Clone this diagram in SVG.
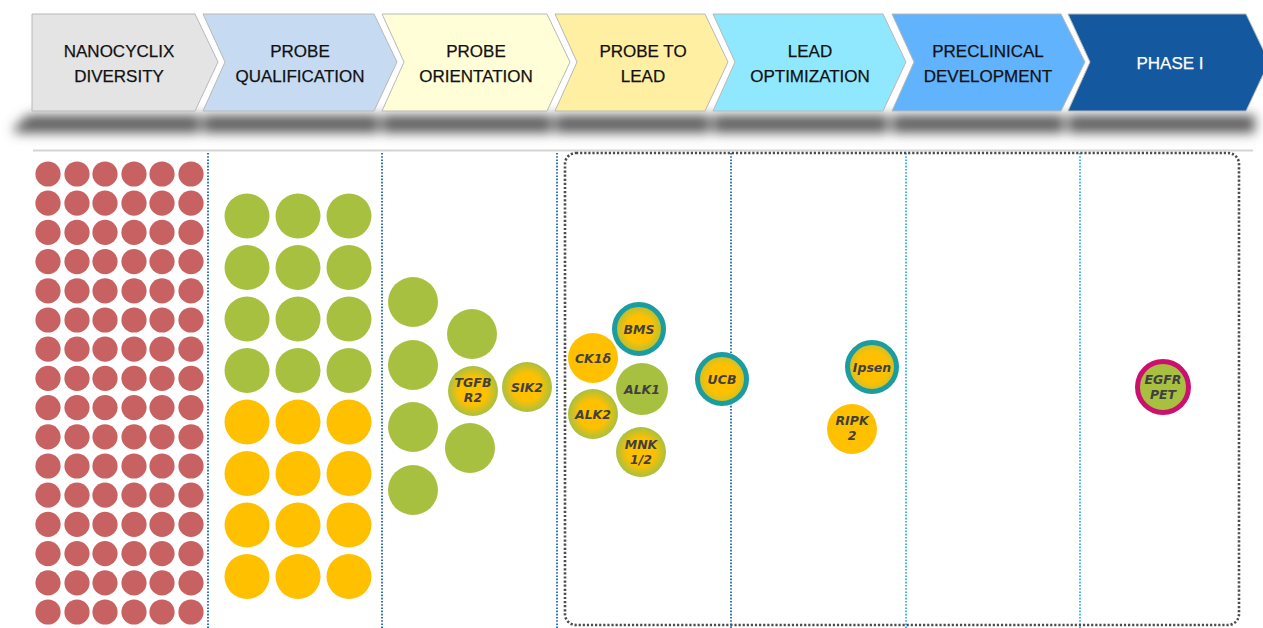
<svg xmlns="http://www.w3.org/2000/svg" width="1263" height="628" viewBox="0 0 1263 628">
<defs>
<filter id="blur" x="-10%" y="-150%" width="120%" height="400%"><feGaussianBlur stdDeviation="6"/></filter>
<radialGradient id="yg" cx="50%" cy="50%" r="50%"><stop offset="0.55" stop-color="#FFC000"/><stop offset="1" stop-color="#A8C040"/></radialGradient>
<radialGradient id="yg2" cx="50%" cy="50%" r="50%"><stop offset="0.6" stop-color="#FFC000"/><stop offset="1" stop-color="#C8C030"/></radialGradient>
<style>
.chev{stroke:#b8b8b8;stroke-width:1}
.ht{font-family:"Liberation Sans",Arial,sans-serif;font-size:17px;fill:#111;text-anchor:middle;stroke:#111;stroke-width:0.25}
.red{fill:#C86262}
.grn{fill:#A8C040}
.yel{fill:#FFC000}
.lbl{font-family:"DejaVu Sans",sans-serif;font-size:12.5px;font-weight:bold;font-style:italic;fill:#404040;text-anchor:middle}
.dv{stroke:#3572B5;stroke-width:2;stroke-dasharray:1.6 1.6;fill:none}
.dvl{stroke:#3DB8F0;stroke-width:2;stroke-dasharray:1.6 1.6;fill:none}
.teal{fill:none;stroke:#1A9CA0;stroke-width:5}
</style>
</defs>
<rect width="1263" height="628" fill="#ffffff"/>
<g id="shadow" filter="url(#blur)" fill="#5e5e5e">
<polygon points="12,130 28,115 200,115 200,133 18,133"/>
<rect x="203" y="115" width="176" height="18"/>
<rect x="382" y="115" width="170" height="18"/>
<rect x="555" y="115" width="155" height="18"/>
<rect x="713" y="115" width="175" height="18"/>
<rect x="892" y="115" width="172" height="18"/>
<rect x="1068" y="115" width="187" height="18"/>
</g>
<g id="header">
<g id="h1"><polygon class="chev" fill="#E4E4E4" points="32,14 195,14 218,62 195,111 32,111"/><text class="ht" x="119" y="57">NANOCYCLIX</text><text class="ht" x="119" y="82">DIVERSITY</text></g>
<g id="h2"><polygon class="chev" fill="#C6DAF1" points="203,14 374,14 397,62 374,111 203,111 225,62"/><text class="ht" x="300" y="57">PROBE</text><text class="ht" x="300" y="82">QUALIFICATION</text></g>
<g id="h3"><polygon class="chev" fill="#FFFED6" points="382,14 547,14 570,62 547,111 382,111 404,62"/><text class="ht" x="476" y="57">PROBE</text><text class="ht" x="476" y="82">ORIENTATION</text></g>
<g id="h4"><polygon class="chev" fill="#FFEFA2" points="555,14 705,14 728,62 705,111 555,111 577,62"/><text class="ht" x="643" y="57">PROBE TO</text><text class="ht" x="643" y="82">LEAD</text></g>
<g id="h5"><polygon class="chev" fill="#90E8FE" points="713,14 883,14 906,62 883,111 713,111 735,62"/><text class="ht" x="810" y="57">LEAD</text><text class="ht" x="810" y="82">OPTIMIZATION</text></g>
<g id="h6"><polygon class="chev" fill="#62B3FE" points="892,14 1061,14 1085,62 1061,111 892,111 914,62"/><text class="ht" x="988" y="57">PRECLINICAL</text><text class="ht" x="988" y="82">DEVELOPMENT</text></g>
<g id="h7"><polygon class="chev" fill="#14599F" points="1068,14 1246,14 1269,62 1246,111 1068,111 1090,62"/><text class="ht" x="1170" y="69" style="fill:#ffffff;stroke:#ffffff">PHASE I</text></g>
</g>
<line x1="33" y1="150.5" x2="1253" y2="150.5" stroke="#d4d4d4" stroke-width="2"/>
<g id="connectors">
<line class="dv" x1="208" y1="153" x2="208" y2="628"/>
<line class="dv" x1="382" y1="153" x2="382" y2="628"/>
<line class="dv" x1="557" y1="153" x2="557" y2="628"/>
<line class="dv" x1="731" y1="153" x2="731" y2="628"/>
<line class="dvl" x1="906" y1="153" x2="906" y2="628"/>
<line class="dvl" x1="1080" y1="153" x2="1080" y2="628"/>
<rect x="565" y="153" width="674" height="472" rx="11" fill="none" stroke="#4d4d4d" stroke-width="2.6" stroke-dasharray="2.2 1.9"/>
</g>
<g id="diversity" class="red">
<g id="r0"><circle cx="48" cy="174" r="12.6"/><circle cx="77" cy="174" r="12.6"/><circle cx="105" cy="174" r="12.6"/><circle cx="134" cy="174" r="12.6"/><circle cx="162" cy="174" r="12.6"/><circle cx="191" cy="174" r="12.6"/></g>
<use href="#r0" y="29.2"/><use href="#r0" y="58.4"/><use href="#r0" y="87.6"/><use href="#r0" y="116.8"/><use href="#r0" y="146"/><use href="#r0" y="175.2"/><use href="#r0" y="204.4"/><use href="#r0" y="233.6"/><use href="#r0" y="262.8"/><use href="#r0" y="292"/><use href="#r0" y="321.2"/><use href="#r0" y="350.4"/><use href="#r0" y="379.6"/><use href="#r0" y="408.8"/><use href="#r0" y="438"/>
</g>
<g id="qualification">
<g class="grn">
<circle cx="247" cy="216" r="22.5"/><circle cx="298" cy="216" r="22.5"/><circle cx="349" cy="216" r="22.5"/>
<circle cx="247" cy="267.5" r="22.5"/><circle cx="298" cy="267.5" r="22.5"/><circle cx="349" cy="267.5" r="22.5"/>
<circle cx="247" cy="319" r="22.5"/><circle cx="298" cy="319" r="22.5"/><circle cx="349" cy="319" r="22.5"/>
<circle cx="247" cy="370.5" r="22.5"/><circle cx="298" cy="370.5" r="22.5"/><circle cx="349" cy="370.5" r="22.5"/>
</g>
<g class="yel">
<circle cx="247" cy="422" r="22.5"/><circle cx="298" cy="422" r="22.5"/><circle cx="349" cy="422" r="22.5"/>
<circle cx="247" cy="473.5" r="22.5"/><circle cx="298" cy="473.5" r="22.5"/><circle cx="349" cy="473.5" r="22.5"/>
<circle cx="247" cy="525" r="22.5"/><circle cx="298" cy="525" r="22.5"/><circle cx="349" cy="525" r="22.5"/>
<circle cx="247" cy="576.5" r="22.5"/><circle cx="298" cy="576.5" r="22.5"/><circle cx="349" cy="576.5" r="22.5"/>
</g>
</g>
<g id="orientation" class="grn">
<circle cx="413" cy="302" r="25"/><circle cx="413" cy="365" r="25"/><circle cx="413" cy="427" r="25"/><circle cx="413" cy="490" r="25"/>
<circle cx="472" cy="334" r="25"/><circle cx="470" cy="448" r="25"/>
</g>
<g id="tgfbr2"><circle cx="473" cy="391" r="25" fill="url(#yg)"/><text class="lbl" x="473" y="387">TGFB</text><text class="lbl" x="473" y="402">R2</text></g>
<g id="sik2"><circle cx="527" cy="387" r="25" fill="url(#yg)"/><text class="lbl" x="527" y="392">SIK2</text></g>
<g id="bms"><circle cx="639" cy="329" r="24.5" fill="url(#yg)"/><circle class="teal" cx="639" cy="329" r="24.5"/><text class="lbl" x="639" y="334">BMS</text></g>
<g id="ck1d"><circle cx="593" cy="358" r="25" class="yel"/><text class="lbl" x="593" y="363">CK1δ</text></g>
<g id="alk1"><circle cx="642" cy="389" r="26" class="grn"/><text class="lbl" x="642" y="394">ALK1</text></g>
<g id="alk2"><circle cx="593" cy="414" r="25" fill="url(#yg)"/><text class="lbl" x="593" y="419">ALK2</text></g>
<g id="mnk"><circle cx="641" cy="452" r="25" fill="url(#yg)"/><text class="lbl" x="641" y="449">MNK</text><text class="lbl" x="641" y="464">1/2</text></g>
<g id="ucb"><circle cx="722" cy="379" r="24.5" fill="url(#yg2)"/><circle class="teal" cx="722" cy="379" r="24.5"/><text class="lbl" x="722" y="384">UCB</text></g>
<g id="ipsen"><circle cx="872" cy="367" r="24.5" fill="url(#yg2)"/><circle class="teal" cx="872" cy="367" r="24.5"/><text class="lbl" x="872" y="372">Ipsen</text></g>
<g id="ripk2"><circle cx="852" cy="429" r="25" class="yel"/><text class="lbl" x="852" y="425">RIPK</text><text class="lbl" x="852" y="440">2</text></g>
<g id="egfrpet"><circle cx="1163" cy="387" r="25.5" class="grn" stroke="#CC1070" stroke-width="5"/><text class="lbl" x="1163" y="384">EGFR</text><text class="lbl" x="1163" y="399">PET</text></g>
</svg>
